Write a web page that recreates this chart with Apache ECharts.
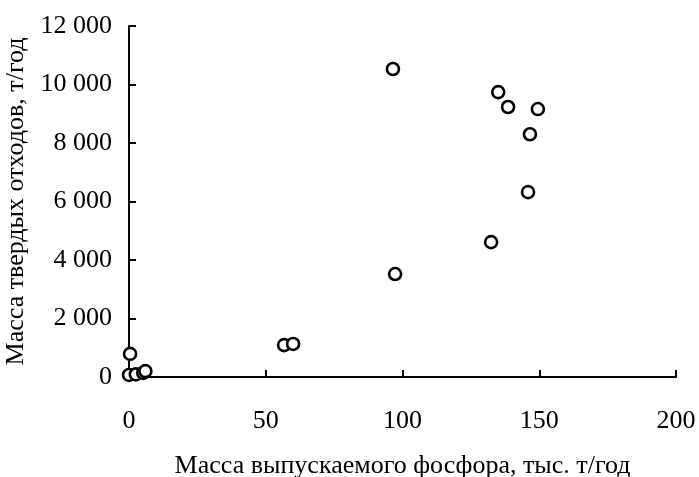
<!DOCTYPE html>
<html><head><meta charset="utf-8">
<script src="https://cdn.jsdelivr.net/npm/echarts@6/dist/echarts.min.js"></script>
<style>html,body{margin:0;padding:0;background:#fff}#c{width:699px;height:477px}</style>
</head><body><div id="c"></div>
<script>
var xValues = [96.5, 135, 138.6, 149.5, 146.6, 145.9, 132.4, 97.3, 56.7, 60, 0.4, 0, 2.5, 5.2, 6];
var yValues = [10530, 9740, 9230, 9160, 8300, 6320, 4610, 3520, 1090, 1130, 790, 70, 90, 140, 200];
var xTicks = [0, 50, 100, 150, 200];
var yTicks = [0, 2000, 4000, 6000, 8000, 10000, 12000];
var xTitle = 'Масса выпускаемого фосфора, тыс. т/год';
var yTitle = 'Масса твердых отходов, т/год';

var font = '"Liberation Serif", "Times New Roman", serif';
function fmt(v){ return String(v).replace(/\B(?=(\d{3})+(?!\d))/g, ' '); }
var pts = xValues.map(function(x,i){ return [x, yValues[i]]; });
var chart = echarts.init(document.getElementById('c'), null, {renderer:'canvas'});
chart.setOption({
  animation:false,
  grid:{left:129, right:23, top:26, bottom:100, containLabel:false, outerBoundsMode:'none'},
  xAxis:{type:'value', min:xTicks[0], max:xTicks[xTicks.length-1], interval:50,
    axisLine:{lineStyle:{color:'#000', width:2}},
    axisTick:{inside:true, length:7, lineStyle:{color:'#000', width:2}},
    splitLine:{show:false},
    axisLabel:{color:'#000', fontFamily:font, fontSize:26, margin:31},
    name:xTitle, nameLocation:'middle', nameGap:76,
    nameTextStyle:{color:'#000', fontFamily:font, fontSize:26}},
  yAxis:{type:'value', min:yTicks[0], max:yTicks[yTicks.length-1], interval:2000,
    axisLine:{show:true, lineStyle:{color:'#000', width:2}},
    axisTick:{show:true, inside:true, length:7, lineStyle:{color:'#000', width:2}},
    splitLine:{show:false},
    axisLabel:{color:'#000', fontFamily:font, fontSize:26, margin:17, formatter:fmt},
    name:yTitle, nameLocation:'middle', nameGap:97,
    nameTextStyle:{color:'#000', fontFamily:font, fontSize:26}},
  series:[{type:'scatter', data:pts, symbol:'circle', symbolSize:12,
    itemStyle:{color:'#fff', borderColor:'#000', borderWidth:2.6, opacity:1}}]
});
</script></body></html>
